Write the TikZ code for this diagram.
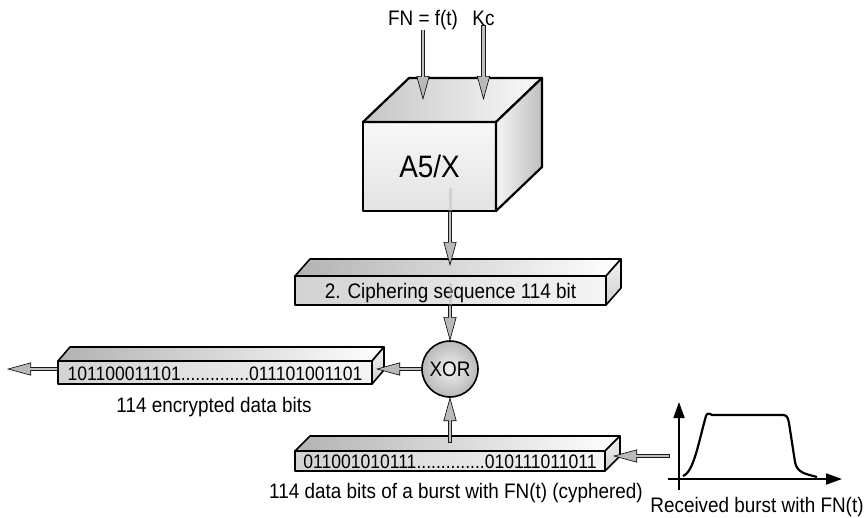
\documentclass[tikz,border=0pt]{standalone}
\usepackage{fontspec}
\setmainfont{Liberation Sans}[FakeStretch=0.9]
\usetikzlibrary{arrows.meta}

\begin{document}
\begin{tikzpicture}[x=1pt, y=-1pt, font=\fontsize{21}{24}\selectfont]
    \tikzset{face/.style={draw=black, line width=1.6pt, line join=round, outer sep=0pt},
        bar/.style={face, left color=gray!35, right color=gray!8, inner sep=0pt, text height=15pt, text depth=0pt},
        pipe/.style={draw=gray!20!black, line width=4.5pt,
            -{Triangle[length=24pt, width=13pt, line width=0.6pt, color=black, fill=gray!55]},
            postaction={draw=gray!50, line width=2.4pt, -, shorten >=23pt, shorten <=0.8pt}},
        ghost/.style={draw=gray!55, line width=3pt, opacity=0.45},
        axis/.style={line width=1.8pt, -{Triangle[length=16pt, width=11pt]}},
        lbl/.style={anchor=base, inner sep=0pt}
    }
    \useasboundingbox (0,0) rectangle (867,517);

    % A5/X cube
    \node (a5) [face, line width=2.2pt, top color=gray!6, bottom color=gray!22, minimum width=133, minimum height=89,
        text height=22pt, text depth=0pt, font=\fontsize{31}{34}\selectfont] at (429.5,166.5) {A5/X};
    \draw [face, line width=2.2pt, left color=gray!45, right color=gray!4] (a5.north west) -- ++(46,-44)
        -- ([shift={(46,-44)}]a5.north east) -- (a5.north east) -- cycle;
    \draw [face, line width=2.2pt, left color=gray!8, right color=gray!50] (a5.north east) -- ++(46,-44)
        -- ([shift={(46,-44)}]a5.south east) -- (a5.south east) -- cycle;

    % bit bars
    \foreach \name/\cx/\cy/\w/\h/\dx/\dy/\fs/\txt in {
        cipher/450.5/290.5/311/29/15/17/21/{2. Ciphering sequence 114 bit},
        enc/215/372.5/314/23/12/14/19.5/{101100011101..............011101001101},
        data/450/461/310/20/15/15/19.5/{011001010111..............010111011011}} {
        \node (\name) [bar, minimum width=\w, minimum height=\h, font=\fontsize{\fs}{23}\selectfont] at (\cx,\cy) {\txt};
        \draw [face, left color=gray!60, right color=white] (\name.north west) -- ++(\dx,-\dy)
            -- ([shift={(\dx,-\dy)}]\name.north east) -- (\name.north east) -- cycle;
        \draw [face, top color=gray!8, bottom color=gray!40] (\name.north east) -- ++(\dx,-\dy)
            -- ([shift={(\dx,-\dy)}]\name.south east) -- (\name.south east) -- cycle;
    }

    \node (xor) [circle, face, inner color=gray!12, outer color=gray!55, minimum size=56, inner sep=0pt] at (450,369) {XOR};

    % labels
    \node (fn) [lbl] at (423,25) {FN = f(t)};
    \node (kc) [lbl] at (483.5,25) {Kc};
    \node (enc-label) [lbl] at (214,412) {114 encrypted data bits};
    \node (data-label) [lbl] at (456,498) {114 data bits of a burst with FN(t) (cyphered)};
    \node (burst-label) [lbl] at (757,512) {Received burst with FN(t)};

    % connectors
    \coordinate (top-in) at (423,100);
    \draw [pipe] (fn.south) -- (top-in);
    \draw [pipe] (kc.south) -- (kc.south |- top-in);

    \coordinate (a5-out) at (450,188);
    \coordinate (cipher-in) at (450,266);
    \draw [ghost] (a5-out) -- (a5-out |- a5.south);
    \draw [pipe] (a5-out |- a5.south) -- (cipher-in);

    \coordinate (cipher-out) at (450,283);
    \draw [ghost] (cipher-out) -- (cipher-out |- cipher.south);
    \draw [pipe] (cipher-out |- cipher.south) -- (xor.north);

    \coordinate (data-out) at (450,443);
    \draw [pipe] (data-out) -- (xor.south);

    \coordinate (enc-in) at (376,369);
    \draw [pipe] (xor.west) -- (enc-in);
    \coordinate (out-end) at (7,369);
    \draw [pipe] (enc.west |- out-end) -- (out-end);

    \coordinate (burst-out) at (670,456);
    \coordinate (data-in) at (613,456);
    \draw [pipe] (burst-out) -- (data-in);

    % received burst
    \draw [axis] (668,479) -- (842,479);
    \draw [axis] (679,490) -- (679,402);
    \draw [line width=2.2pt, line join=round] (683,476) .. controls (694,472) and (699,440) .. (706,416)
        .. controls (707,413) and (709,413) .. (712,415) -- (783,415) .. controls (787,415) and (788,418) .. (789,423)
        -- (795,462) .. controls (797,473) and (806,474) .. (817,477);
\end{tikzpicture}
\end{document}
